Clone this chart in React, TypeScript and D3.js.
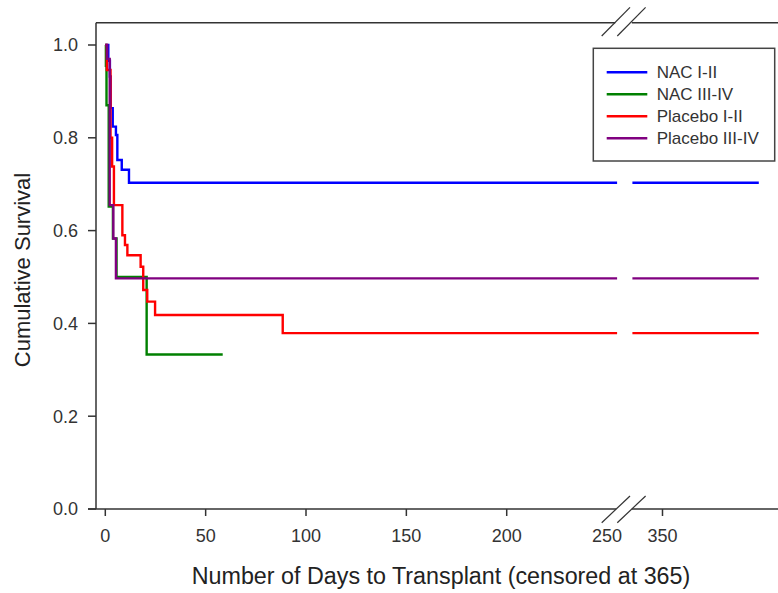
import React from 'react'
import * as d3 from 'd3'

// survival curves (day, cumulative survival)
const groups = ["NAC I-II", "NAC III-IV", "Placebo I-II", "Placebo III-IV"]
const colors = ["#0000ff", "#008000", "#ff0000", "#800080"]

const nacLowDays = [0, 1.5, 2.3, 2.7, 3.7, 5.3, 6.0, 8.2, 11.8]
const nacLowSurv = [1.0, 0.966, 0.932, 0.864, 0.824, 0.806, 0.752, 0.731, 0.703]

const nacHighDays = [0, 0.3, 0.6, 1.7, 3.8, 5.6, 20.6]
const nacHighSurv = [1.0, 0.955, 0.87, 0.652, 0.583, 0.5, 0.333]

const placeboLowDays = [0, 0.8, 2.6, 3.4, 4.3, 8.5, 9.8, 11.0, 17.6, 18.9, 20.9, 24.8, 88.4]
const placeboLowSurv = [1.0, 0.946, 0.8, 0.738, 0.655, 0.59, 0.569, 0.547, 0.522, 0.472, 0.447, 0.418, 0.379]

const placeboHighDays = [0, 0.85, 2.2, 4.0, 5.3]
const placeboHighSurv = [1.0, 0.97, 0.655, 0.583, 0.497]

const lastDays = [398, 58.5, 398, 398]

const seriesDays = [nacLowDays, nacHighDays, placeboLowDays, placeboHighDays]
const seriesSurv = [nacLowSurv, nacHighSurv, placeboLowSurv, placeboHighSurv]

const yTicks = [0, 0.2, 0.4, 0.6, 0.8, 1.0]
const xTicksLeft = [0, 50, 100, 150, 200, 250]
const xTicksRight = [350]

const App = () => {
  const y = d3.scaleLinear([0, 1], [509, 45])
  const xLeft = d3.scaleLinear([0, 255], [105.3, 617.1])
  const xRight = d3.scaleLinear([335, 398], [632.4, 758.8])
  const line = d3.line().curve(d3.curveStepAfter)

  const breakLo = 255
  const breakHi = 335

  const paths = seriesDays.map((days, i) => {
    const surv = seriesSurv[i]
    const end = lastDays[i]
    const pts: [number, number][] = days.map((d, j) => [d, surv[j]])
    const leftEnd = Math.min(end, breakLo)
    const left = pts.filter(p => p[0] <= leftEnd)
    left.push([leftEnd, left[left.length - 1][1]])
    const out: string[] = [line(left.map(p => [xLeft(p[0]), y(p[1])]) as any) as string]
    if (end > breakHi) {
      const s = pts.filter(p => p[0] <= breakHi).slice(-1)[0][1]
      out.push(line([[xRight(breakHi), y(s)], [xRight(end), y(s)]]) as string)
    }
    return out
  })

  const axisColor = "#333"
  const font = "Arial, 'Liberation Sans', sans-serif"
  const gapL = 616.2
  const gapR = 631.8

  return (
    <svg width={778} height={593} style={{ position: 'absolute', left: 0, top: 0, background: '#fff' }}
      fontFamily={font}>
      <rect width={778} height={593} fill="#fff" />

      {/* frame: left axis, top line, bottom axis with break */}
      <line x1={96} x2={96} y1={22.7} y2={509} stroke={axisColor} strokeWidth={1.5} />
      <line x1={96} x2={gapL - 1} y1={22.7} y2={22.7} stroke={axisColor} strokeWidth={1.5} />
      <line x1={gapR} x2={778} y1={22.7} y2={22.7} stroke={axisColor} strokeWidth={1.5} />
      <line x1={88} x2={gapL} y1={509} y2={509} stroke={axisColor} strokeWidth={1.5} />
      <line x1={gapR} x2={778} y1={509} y2={509} stroke={axisColor} strokeWidth={1.5} />

      {/* break marks */}
      {[0, 15.6].map(o => (
        <g key={o}>
          <line x1={601.7 + o} y1={522.7} x2={630 + o} y2={496} stroke={axisColor} strokeWidth={1.2} />
          <line x1={601.7 + o} y1={36} x2={630 + o} y2={7.3} stroke={axisColor} strokeWidth={1.2} />
        </g>
      ))}

      {/* y ticks */}
      {yTicks.map(t => (
        <g key={t}>
          <line x1={88} x2={96} y1={y(t)} y2={y(t)} stroke={axisColor} strokeWidth={1.5} />
          <text x={78} y={y(t)} dy="0.35em" textAnchor="end" fontSize={18} fill="#333">{d3.format(".1f")(t)}</text>
        </g>
      ))}

      {/* x ticks */}
      {xTicksLeft.map(t => (
        <g key={t}>
          {t < breakLo - 10 && <line x1={xLeft(t)} x2={xLeft(t)} y1={509} y2={516} stroke={axisColor} strokeWidth={1.5} />}
          <text x={xLeft(t)} y={542} textAnchor="middle" fontSize={18} fill="#333">{t}</text>
        </g>
      ))}
      {xTicksRight.map(t => (
        <g key={t}>
          <line x1={xRight(t)} x2={xRight(t)} y1={509} y2={516} stroke={axisColor} strokeWidth={1.5} />
          <text x={xRight(t)} y={542} textAnchor="middle" fontSize={18} fill="#333">{t}</text>
        </g>
      ))}

      {/* curves */}
      {paths.map((ps, i) => ps.map((d, k) => (
        <path key={i + '-' + k} d={d} fill="none" stroke={colors[i]} strokeWidth={2.4} />
      )))}

      {/* legend */}
      <rect x={593.3} y={48.3} width={181.4} height={112.7} fill="#fff" stroke="#444" strokeWidth={1.5} />
      {groups.map((g, i) => (
        <g key={g} transform={`translate(0, ${72.3 + i * 22})`}>
          <line x1={606.7} x2={647.3} y1={0} y2={0} stroke={colors[i]} strokeWidth={2.4} />
          <text x={656.7} y={0} dy="0.35em" fontSize={17} fill="#333">{g}</text>
        </g>
      ))}

      {/* axis titles */}
      <text x={441} y={584} textAnchor="middle" fontSize={23.3} fill="#222">Number of Days to Transplant (censored at 365)</text>
      <text transform="translate(30,270) rotate(-90)" textAnchor="middle" fontSize={22} fill="#222">Cumulative Survival</text>
    </svg>
  )
}

export default App
